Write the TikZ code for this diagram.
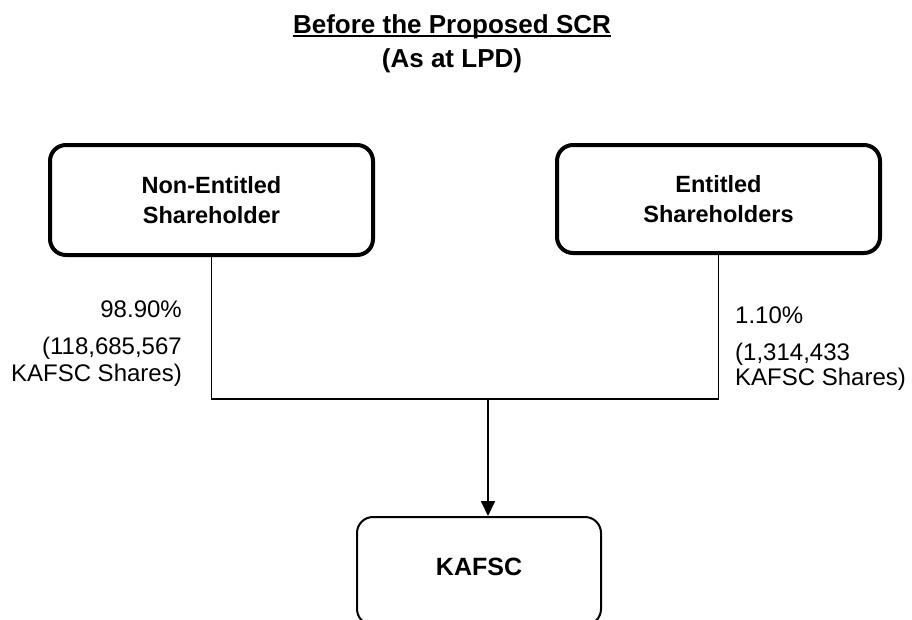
\documentclass[tikz,border=0pt]{standalone}
\usepackage{fontspec}
\setmainfont{Liberation Sans}
\usetikzlibrary{arrows.meta}
\begin{document}
\begin{tikzpicture}[x=1pt,y=-1pt,
  bigbox/.style={draw, line width=4pt, rounded corners=16pt, minimum width=323pt,
    align=center, inner sep=0pt, font=\fontsize{23.5}{30}\selectfont\bfseries},
  smallbox/.style={draw, line width=2pt, rounded corners=16pt, minimum width=244pt,
    minimum height=108pt, inner sep=0pt, font=\fontsize{25}{30}\selectfont\bfseries},
  titletext/.style={anchor=base, inner sep=0pt, font=\fontsize{26}{30}\selectfont\bfseries},
  lbl/.style={inner sep=0pt, font=\fontsize{24}{28}\selectfont},
  conn/.style={line width=1.8pt},
]
\useasboundingbox (0,0) rectangle (912,619);
\clip (0,0) rectangle (912,619);

% title
\node[titletext] (t1) at (452,33) {Before the Proposed SCR};
\node[titletext] (t2) at (452,67) {(As at LPD)};
\draw[line width=2pt] ([yshift=-3pt]t1.base west) -- ([yshift=-3pt]t1.base east);

% boxes
\node[bigbox, minimum height=110pt] (ne) at (211.5,200) {Non-Entitled\\Shareholder};
\node[bigbox, minimum height=108pt] (en) at (718.5,199) {Entitled\\Shareholders};
\node[smallbox] (k) at (479,571) {\raisebox{8pt}{KAFSC}};

% connectors
\coordinate (junc) at (488,399);
\draw[conn] (ne.south) -- (ne.south |- junc) -- (en.south |- junc);
\draw[conn] (en.south) -- ([yshift=-1pt]en.south |- junc);
\draw[conn, -{Triangle[width=14pt,length=15pt]}] (junc) -- (junc |- k.north);

% labels left
\node[lbl, anchor=base east] (l1) at (182,317) {98.90\%};
\node[lbl, anchor=base east] (l2) at (182,354) {(118,685,567};
\node[lbl, anchor=base east] (l3) at (182,381) {KAFSC Shares)};

% labels right
\node[lbl, anchor=base west] (r1) at (735,323) {1.10\%};
\node[lbl, anchor=base west] (r2) at (735,360) {(1,314,433};
\node[lbl, anchor=base west] (r3) at (735,385) {KAFSC Shares)};
\end{tikzpicture}
\end{document}
